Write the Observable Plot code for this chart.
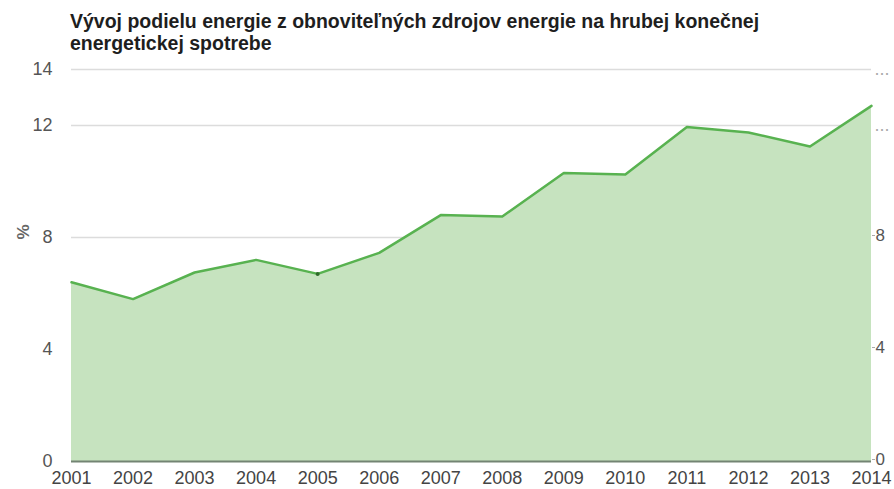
<!DOCTYPE html>
<html>
<head>
<meta charset="utf-8">
<script src="https://cdn.jsdelivr.net/npm/d3@7"></script>
<script src="https://cdn.jsdelivr.net/npm/@observablehq/plot@0.6"></script>
<style>
  html, body { margin: 0; padding: 0; background: #fff; }
  body { width: 894px; height: 489px; overflow: hidden; font-family: "Liberation Sans", Arial, sans-serif; }
  #title { height: 58px; box-sizing: border-box; padding: 10px 0 0 70px; font-weight: bold; font-size: 19.5px; line-height: 22px; color: #1e1e1e; white-space: nowrap; }
</style>
</head>
<body>
<div id="title">Vývoj podielu energie z obnoviteľných zdrojov energie na hrubej konečnej<br>energetickej spotrebe</div>
<div id="chart"></div>
<script>
const years = [2001, 2002, 2003, 2004, 2005, 2006, 2007, 2008, 2009, 2010, 2011, 2012, 2013, 2014];
const shares = [6.4, 5.8, 6.75, 7.2, 6.7, 7.45, 8.8, 8.75, 10.3, 10.25, 11.95, 11.75, 11.25, 12.7];
const yTicks = [0, 4, 8, 12, 14];
const rightTicks = [0, 4, 8];
const rightCutTicks = [12, 14];
const markedYear = 2005;

const data = years.map((year, i) => ({year, share: shares[i]}));

const chart = Plot.plot({
  width: 894,
  height: 431,
  marginTop: 11,
  marginBottom: 28,
  marginLeft: 71,
  marginRight: 23,
  style: {fontFamily: "Liberation Sans, Arial, sans-serif", fontSize: "18px", color: "#444", background: "#fff", overflow: "visible"},
  x: {type: "linear", domain: [2001, 2014]},
  y: {domain: [0, 14]},
  marks: [
    Plot.ruleY(yTicks.filter(d => d > 0), {stroke: "#dcdcdc", strokeWidth: 1.5}),
    Plot.areaY(data, {x: "year", y: "share", fill: "#c6e3bf", fillOpacity: 1}),
    Plot.ruleY([0], {stroke: "#738473", strokeWidth: 2}),
    Plot.lineY(data, {x: "year", y: "share", stroke: "#58b250", strokeWidth: 2.5}),
    Plot.dot(data.filter(d => d.year === markedYear), {x: "year", y: "share", r: 2, fill: "#2f6b2a"}),
    Plot.axisX({ticks: years, tickFormat: d => String(d), tickSize: 0, tickPadding: 10, label: null, fill: "#444"}),
    Plot.axisY({ticks: yTicks, tickSize: 0, tickPadding: 19, label: null, fill: "#555"}),
    Plot.axisY({anchor: "right", ticks: rightTicks, tickSize: 3, tickPadding: 1, stroke: "#aaa", label: null, fill: "#555", fontSize: 17, dy: -2}),
    Plot.axisY({anchor: "right", ticks: rightCutTicks, tickFormat: () => "...", tickSize: 0, tickPadding: 3, label: null, fill: "#aaa"}),
    Plot.text(["%"], {frameAnchor: "left", text: d => d, dx: -48, dy: -26, rotate: -90, fontSize: 17, fontWeight: "bold", fill: "#666"})
  ]
});
document.getElementById("chart").appendChild(chart);
</script>
</body>
</html>
